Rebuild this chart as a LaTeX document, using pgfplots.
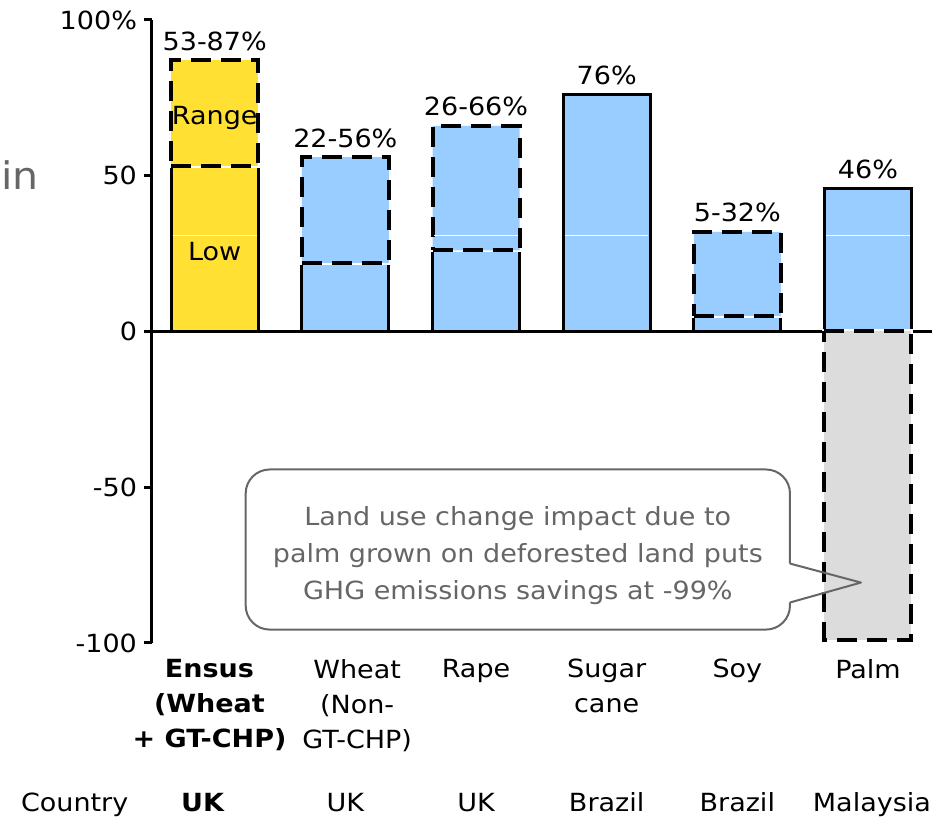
\documentclass[border=0pt]{standalone}
\usepackage{pgfplots}
\pgfplotsset{compat=1.18}
\usepackage{pgfplotstable}
\usepackage{fontspec}
\setmainfont{DejaVu Sans}[FakeStretch=1.08]
\definecolor{ensus}{HTML}{FFE033}
\definecolor{bblue}{HTML}{99CCFF}
\definecolor{lgray}{HTML}{DCDCDC}
\definecolor{tgray}{HTML}{666666}

% stacked part: x = 0 (Ensus), 1 (Wheat), 2 (Rape), 4 (Soy)
\pgfplotstableread{
x val
0 53
1 0
2 0
4 0
}\ensuslow
\pgfplotstableread{
x val
0 0
1 22
2 26
4 5
}\otherlow
\pgfplotstableread{
x val
0 34
1 0
2 0
4 0
}\ensusrange
\pgfplotstableread{
x val
0 0
1 34
2 40
4 27
}\otherrange
% single bars
\pgfplotstableread{
x val
3 76
5 46
}\solidbars
\pgfplotstableread{
x val
5 -99
}\palmluc

\tikzset{
  rangebar/.style={draw=none,
    postaction={draw=white, line width=2pt},
    postaction={draw=black, line width=2pt, dash pattern=on 10pt off 5pt}},
  lowbar/.style={draw=black, line width=1.5pt},
  lab/.style={font=\fontsize{12.5}{17}\selectfont},
}

\begin{document}
\begin{tikzpicture}
\path[use as bounding box] (-76pt,-87pt) rectangle (398pt,321.5pt);
\begin{axis}[
  at={(0,0)}, anchor=south west,
  scale only axis, width=390pt, height=311.5pt,
  xmin=-0.48, xmax=5.49, ymin=-100, ymax=100,
  enlargelimits=false,
  ybar stacked, reverse stacked plots=false, bar width=0.666,
  axis x line*=bottom, axis y line*=left,
  x axis line style={draw=none},
  y axis line style={line width=1.5pt},
  xtick={-0.04,1.09,2,3,4,5},
  xticklabels={{\textbf{Ensus}\\\textbf{(Wheat}\\\textbf{+ GT-CHP)}},{Wheat\\(Non-\\GT-CHP)},{Rape},{Sugar\\cane},{Soy},{Palm}},
  xtick style={draw=none},
  ytick={-100,-50,0,50,100},
  yticklabels={-100,-50,0,50,100\%},
  ytick style={line width=1.5pt, black},
  tick align=outside, major tick length=4pt,
  ticklabel style={font=\fontsize{12.5}{17.5}\selectfont},
  xticklabel style={align=center, yshift=-0.5pt},
  /pgf/number format/assume math mode=true,
  clip=false,
]
\addplot[fill=ensus, lowbar] table[x=x,y=val]{\ensuslow};
\addplot[fill=bblue, lowbar] table[x=x,y=val]{\otherlow};
\addplot[fill=ensus, rangebar] table[x=x,y=val]{\ensusrange};
\addplot[fill=bblue, rangebar] table[x=x,y=val]{\otherrange};

% country row
\node[lab, anchor=base] at (axis cs:-1.072,-154) {Country};
\node[lab, anchor=base] at (axis cs:-0.09,-154) {\textbf{UK}};
\node[lab, anchor=base] at (axis cs:1,-154) {UK};
\node[lab, anchor=base] at (axis cs:2,-154) {UK};
\node[lab, anchor=base] at (axis cs:3,-154) {Brazil};
\node[lab, anchor=base] at (axis cs:4,-154) {Brazil};
\node[lab, anchor=base] at (axis cs:5.03,-154) {Malaysia};
\end{axis}

\begin{axis}[
  at={(0,0)}, anchor=south west,
  scale only axis, width=390pt, height=311.5pt,
  xmin=-0.48, xmax=5.49, ymin=-100, ymax=100,
  enlargelimits=false,
  hide axis, clip=false,
]
\addplot[black, line width=1.5pt] coordinates {(-0.48,0) (5.49,0)};
\addplot[ybar, bar width=0.666, bar shift=0pt, fill=bblue, lowbar] table[x=x,y=val]{\solidbars};
\addplot[ybar, bar width=0.666, bar shift=0pt, fill=lgray, rangebar] table[x=x,y=val]{\palmluc};
% thin white lines seen inside some bars
\addplot[white, line width=0.6pt] coordinates {(-0.32,30.8) (0.32,30.8)};
\addplot[white, line width=0.6pt] coordinates {(1.68,30.8) (2.32,30.8)};
\addplot[white, line width=0.6pt] coordinates {(2.68,30.8) (3.32,30.8)};
\addplot[white, line width=0.6pt] coordinates {(4.68,30.8) (5.32,30.8)};

% labels in/above bars
\node[lab] at (axis cs:0,68.5) {Range};
\node[lab] at (axis cs:0,25.7) {Low};
\node[lab, anchor=base, yshift=5pt] at (axis cs:0,87) {53-87\%};
\node[lab, anchor=base, yshift=5pt] at (axis cs:1,56) {22-56\%};
\node[lab, anchor=base, yshift=5pt] at (axis cs:2,66) {26-66\%};
\node[lab, anchor=base, yshift=5pt] at (axis cs:3,76) {76\%};
\node[lab, anchor=base, yshift=5pt] at (axis cs:4,32) {5-32\%};
\node[lab, anchor=base, yshift=5pt] at (axis cs:5,46) {46\%};

% callout
\draw[tgray, line width=1pt, rounded corners=12pt]
  (axis cs:4.403,-74.5) -- (axis cs:4.403,-44.3) -- (axis cs:0.237,-44.3)
  -- (axis cs:0.237,-95.7) -- (axis cs:4.403,-95.7) -- (axis cs:4.403,-87.0);
\draw[tgray, line width=1pt, line join=round]
  (axis cs:4.403,-87.0) -- (axis cs:4.946,-80.6) -- (axis cs:4.403,-74.5);
\node[align=center, text=tgray, font=\fontsize{12.5}{18.5}\selectfont]
  at (axis cs:2.32,-72) {Land use change impact due to\\palm grown on deforested land puts\\GHG emissions savings at -99\%};
\end{axis}

\node[anchor=base west, inner sep=0pt, text=tgray, font=\fontsize{19}{24}\selectfont] at (-75.5pt,226.5pt) {in};
\end{tikzpicture}
\end{document}
